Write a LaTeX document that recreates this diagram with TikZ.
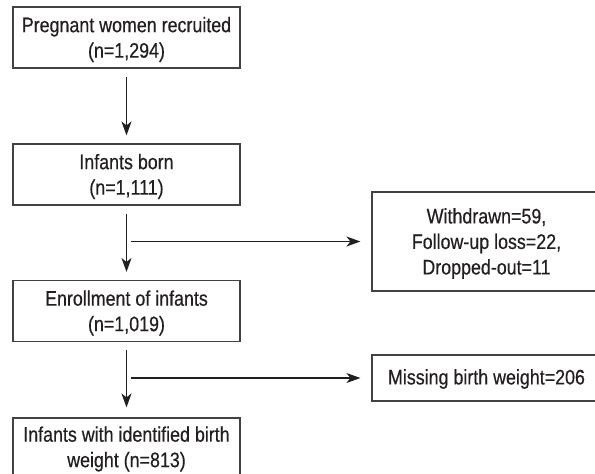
\documentclass[tikz,border=0pt]{standalone}
\usepackage{fontspec}
\setmainfont{Liberation Sans}[FakeStretch=0.85,FakeBold=0.5]
\usetikzlibrary{arrows.meta}
\definecolor{ink}{HTML}{231F20}
\begin{document}
\begin{tikzpicture}[x=1pt,y=-1pt,
  box/.style={draw=ink!85, line width=1.1pt, rectangle, inner sep=0pt},
  lbox/.style={box, minimum width=227pt, minimum height=61pt},
  txt/.style={inner sep=0pt, align=center, text=ink, font=\fontsize{21}{25.5}\selectfont},
  arr/.style={draw=ink, line width=1.3pt, -{Stealth[length=14pt,width=10pt,inset=4pt]}}]
\useasboundingbox (0,0) rectangle (595,474);
\clip (0,0) rectangle (595,474);
\node[lbox] (b1) at (126.5,37.5) {};
\node[lbox] (b2) at (126.5,174.5) {};
\node[lbox] (b3) at (126.5,311) {};
\node[lbox, minimum height=58pt] (b4) at (126.5,447) {};
\node[box, minimum width=229pt, minimum height=99pt] (r1) at (486.5,241.5) {};
\node[box, minimum width=229pt, minimum height=46pt] (r2) at (486.5,378) {};
\node[txt] (b1t) at ([yshift=-2pt]b1.center) {Pregnant women recruited\\(n=1,294)};
\node[txt] (b2t) at ([yshift=-2pt]b2.center) {Infants born\\(n=1,111)};
\node[txt] (b3t) at ([yshift=-2pt]b3.center) {Enrollment of infants\\(n=1,019)};
\node[txt] (b4t) at ([yshift=-2pt]b4.center) {Infants with identified birth\\weight (n=813)};
\node[txt] (r1t) at ([yshift=-2pt]r1.center) {Withdrawn=59,\\Follow-up loss=22,\\Dropped-out=11};
\node[txt] (r2t) at ([yshift=-1pt]r2.center) {Missing birth weight=206};
\draw[arr] ([yshift=-8pt]b1.south) -- ([yshift=8pt]b2.north);
\draw[arr] ([yshift=-8pt]b2.south) -- ([yshift=8pt]b3.north);
\draw[arr] ([yshift=-8pt]b3.south) -- ([yshift=10pt]b4.north);
\coordinate (j1) at (130.5,241.5);
\coordinate (j2) at (130.5,378);
\draw[arr] (j1) -- ([xshift=-11pt]r1.west);
\draw[arr] (j2) -- ([xshift=-11pt]r2.west);
\end{tikzpicture}
\end{document}
